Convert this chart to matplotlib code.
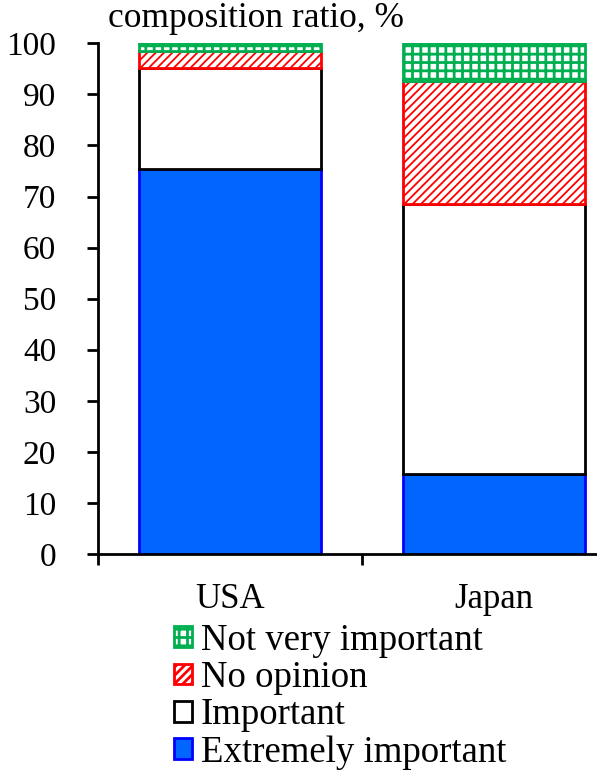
import matplotlib
matplotlib.use("Agg")
import matplotlib.pyplot as plt
from matplotlib.patches import Patch
import numpy as np

# Survey composition by country (percent of respondents)
countries = ["USA", "Japan"]
extremely_important = [75.3, 15.7]
important = [19.8, 52.9]
no_opinion = [3.4, 24.0]
not_very_important = [1.5, 7.4]

series_labels = ["Extremely important", "Important", "No opinion", "Not very important"]
yticks = [0, 10, 20, 30, 40, 50, 60, 70, 80, 90, 100]

plt.rcParams["font.family"] = ["Liberation Serif", "DejaVu Serif"]
FS = 24

fig = plt.figure(figsize=(5.97, 7.78), dpi=100)
ax = fig.add_axes([0.1642, 0.2879, 0.8844, 0.6564])

x = np.arange(len(countries)) + 0.5
width = 0.69

styles = [
    dict(facecolor="#0066FF", edgecolor="#0000FF", hatch=None, hlw=1.0),
    dict(facecolor="white", edgecolor="black", hatch=None, hlw=1.0),
    dict(facecolor="white", edgecolor="#FF0000", hatch="////", hlw=1.3),
    dict(facecolor="white", edgecolor="#00B050", hatch="++", hlw=2.0),
]
series = [extremely_important, important, no_opinion, not_very_important]

bottom = np.zeros(len(countries))
handles = []
for vals, st, lab in zip(series, styles, series_labels):
    plt.rcParams["hatch.linewidth"] = st["hlw"]
    ax.bar(x, vals, width=width, bottom=bottom, facecolor=st["facecolor"],
           edgecolor=st["edgecolor"], hatch=st["hatch"], linewidth=2.0, zorder=2)
    handles.append(Patch(facecolor=st["facecolor"], edgecolor=st["edgecolor"],
                         hatch=st["hatch"], linewidth=2.0, label=lab))
    bottom += np.array(vals)

ax.set_xlim(0, 2)
ax.set_ylim(0, 100)
ax.set_yticks(yticks)
ax.set_yticklabels([str(t) for t in yticks], fontsize=FS)
ax.tick_params(axis="y", direction="out", length=8, width=2, pad=22)

# category boundaries carry the tick marks; names sit at the centers
ax.set_xticks([0, 1, 2])
ax.set_xticklabels(["", "", ""])
ax.tick_params(axis="x", which="major", direction="out", length=8, width=2)
ax.set_xticks(x, minor=True)
ax.set_xticklabels(countries, minor=True, fontsize=25)
ax.tick_params(axis="x", which="minor", length=0, pad=21)

for side in ["top", "right"]:
    ax.spines[side].set_visible(False)
for side in ["left", "bottom"]:
    ax.spines[side].set_linewidth(2)
    ax.spines[side].set_zorder(3)

fig.text(108 / 597, 1 - 27 / 778, "composition ratio, %", fontsize=25.5,
         ha="left", va="baseline")

leg = fig.legend(handles[::-1], series_labels[::-1], loc="upper left",
                 bbox_to_anchor=(174 / 597, 1 - 623 / 778), frameon=False,
                 fontsize=26.5, handlelength=0.48, handleheight=0.48,
                 handletextpad=0.25, labelspacing=0.08, borderpad=0, borderaxespad=0)

fig.savefig("out.png", dpi=100)
